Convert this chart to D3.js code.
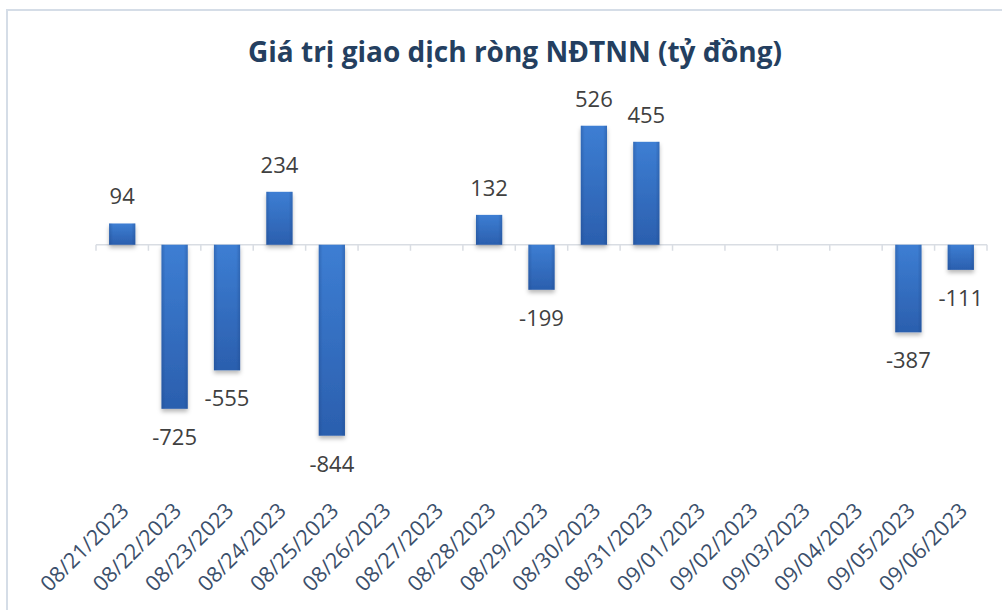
<!DOCTYPE html>
<html>
<head>
<meta charset="utf-8">
<script src="https://cdn.jsdelivr.net/npm/d3@7"></script>
<style>
  html, body { margin: 0; padding: 0; background: #ffffff; }
  svg { display: block; }
</style>
</head>
<body>
<svg id="chart" width="1002" height="610"></svg>
<script>
const title = "Giá trị giao dịch ròng NĐTNN (tỷ đồng)";
const categories = ["08/21/2023","08/22/2023","08/23/2023","08/24/2023","08/25/2023","08/26/2023","08/27/2023","08/28/2023","08/29/2023","08/30/2023","08/31/2023","09/01/2023","09/02/2023","09/03/2023","09/04/2023","09/05/2023","09/06/2023"];
const values = [94, -725, -555, 234, -844, null, null, 132, -199, 526, 455, null, null, null, null, -387, -111];
const yDomain = [-1000, 600];

const svg = d3.select("#chart");
const font = "'Open Sans', 'Noto Sans', sans-serif";

// frame
svg.append("rect").attr("x", 7).attr("y", 10).attr("width", 1010).attr("height", 640)
  .attr("fill", "#ffffff").attr("stroke", "#d5dde7").attr("stroke-width", 2);

const defs = svg.append("defs");
const grad = defs.append("linearGradient").attr("id", "barGrad").attr("x1", 0).attr("y1", 0).attr("x2", 0).attr("y2", 1);
grad.append("stop").attr("offset", "0%").attr("stop-color", "#3d7ed3");
grad.append("stop").attr("offset", "100%").attr("stop-color", "#2b5fae");
const gradH = defs.append("linearGradient").attr("id", "edgeGrad").attr("x1", 0).attr("y1", 0).attr("x2", 1).attr("y2", 0);
gradH.append("stop").attr("offset", "0%").attr("stop-color", "#1d4585").attr("stop-opacity", 0.35);
gradH.append("stop").attr("offset", "15%").attr("stop-color", "#1d4585").attr("stop-opacity", 0);
gradH.append("stop").attr("offset", "85%").attr("stop-color", "#1d4585").attr("stop-opacity", 0);
gradH.append("stop").attr("offset", "100%").attr("stop-color", "#1d4585").attr("stop-opacity", 0.35);
const shadow = defs.append("filter").attr("id", "shadow").attr("x", "-30%").attr("y", "-30%").attr("width", "160%").attr("height", "160%");
shadow.append("feDropShadow").attr("dx", 0).attr("dy", 3).attr("stdDeviation", 2)
  .attr("flood-color", "#000000").attr("flood-opacity", 0.28);

const x = d3.scaleBand().domain(categories).range([96, 987]).paddingInner(0.5).paddingOuter(0.25);
const y = d3.scaleLinear().domain(yDomain).range([471, 109]);

// title
svg.append("text").attr("x", 515).attr("y", 62).attr("text-anchor", "middle")
  .attr("font-family", font).attr("font-weight", 700).attr("font-size", 28)
  .attr("fill", "#243f60").text(title);

// axis line + ticks at category boundaries
const step = x.step();
const x0 = x.range()[0];
const axisG = svg.append("g");
axisG.append("line").attr("x1", x0).attr("x2", x.range()[1])
  .attr("y1", y(0)).attr("y2", y(0)).attr("stroke", "#d9dde3").attr("stroke-width", 1.5);
axisG.selectAll("line.tick").data(d3.range(categories.length + 1)).join("line")
  .attr("class", "tick")
  .attr("x1", i => x0 + i * step).attr("x2", i => x0 + i * step)
  .attr("y1", y(0)).attr("y2", y(0) + 6)
  .attr("stroke", "#d9dde3").attr("stroke-width", 1.5);

const data = categories.map((c, i) => ({c, v: values[i]})).filter(d => d.v !== null);

// bars
const bars = svg.append("g").attr("filter", "url(#shadow)");
bars.selectAll("rect.bar").data(data).join("rect").attr("class", "bar")
  .attr("x", d => x(d.c)).attr("width", x.bandwidth())
  .attr("y", d => Math.min(y(d.v), y(0))).attr("height", d => Math.abs(y(d.v) - y(0)))
  .attr("fill", "url(#barGrad)");
svg.append("g").selectAll("rect").data(data).join("rect")
  .attr("x", d => x(d.c)).attr("width", x.bandwidth())
  .attr("y", d => Math.min(y(d.v), y(0))).attr("height", d => Math.abs(y(d.v) - y(0)))
  .attr("fill", "url(#edgeGrad)");

// value labels
svg.append("g").selectAll("text").data(data).join("text")
  .attr("x", d => x(d.c) + x.bandwidth() / 2)
  .attr("y", d => d.v >= 0 ? y(d.v) - 19 : y(d.v) + 36)
  .attr("text-anchor", "middle")
  .attr("font-family", font).attr("font-size", 22)
  .attr("fill", "#404040")
  .text(d => String(d.v));

// category labels
svg.append("g").selectAll("text").data(categories).join("text")
  .attr("transform", c => `translate(${x(c) + x.bandwidth() / 2 + 8},${512}) rotate(-45)`)
  .attr("text-anchor", "end")
  .attr("font-family", font).attr("font-size", 21.5)
  .attr("fill", "#3b4f6b")
  .text(c => c);
</script>
</body>
</html>
